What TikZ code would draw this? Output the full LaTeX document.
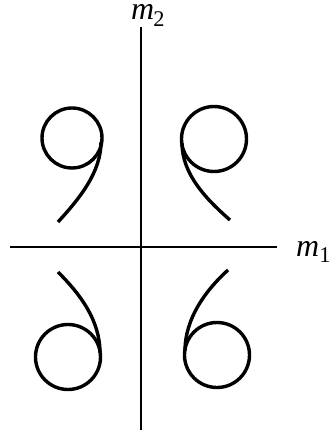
\documentclass[tikz,border=0pt]{standalone}
\usepackage{fontspec}
\setmainfont{Liberation Serif}
\begin{document}
\begin{tikzpicture}[x=1pt,y=-1pt,
  axis/.style={line width=2.2pt},
  loopcurve/.style={line width=3.4pt},
  axlabel/.style={inner sep=0pt,font=\fontsize{32}{34}\selectfont\itshape}]
\useasboundingbox (0,0) rectangle (335,430);
% axes
\coordinate (vtop) at (141,27);
\coordinate (vbot) at (141,432);
\coordinate (hl) at (10,247);
\coordinate (hr) at (277,247);
\draw[axis] (vtop) -- (vbot);
\draw[axis] (hl) -- (hr);
\node[axlabel,anchor=base west] (m2) at (131,20) {m\textsubscript{\upshape\kern-1pt 2}};
\node[axlabel,anchor=base west] (m1) at (296,256) {m\textsubscript{\upshape 1}};
% upper left
\draw[loopcurve] (72,138) circle (30);
\draw[loopcurve] (101,142) .. controls (101,172) and (80,198) .. (58,222);
% upper right
\draw[loopcurve] (214,139) circle (32.5);
\draw[loopcurve] (182,143) .. controls (182,174) and (206,199) .. (230,220);
% lower left
\draw[loopcurve] (68,357) circle (32.5);
\draw[loopcurve] (100,353) .. controls (100,320) and (80,294) .. (58,272);
% lower right
\draw[loopcurve] (217,355) circle (32.5);
\draw[loopcurve] (185,351) .. controls (185,318) and (206,290) .. (228,270);
\end{tikzpicture}
\end{document}
